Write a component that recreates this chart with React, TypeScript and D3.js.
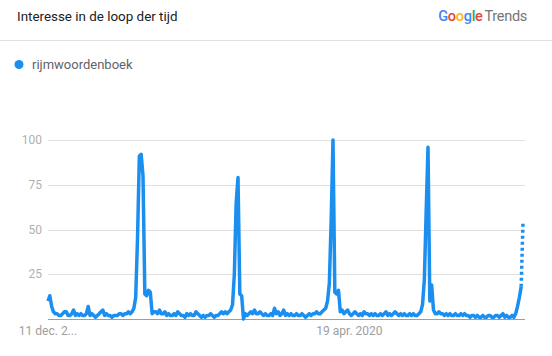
import React from "react";
import * as d3 from "d3";

const seriesName = "rijmwoordenboek";
const yTicks = [0, 25, 50, 75, 100];
const xTickLabels = [
  { index: 0, label: "11 dec. 2..." },
  { index: 165, label: "19 apr. 2020" },
];

const year1 = [
  10, 13, 7, 4, 3, 3, 2, 2, 3, 4,
  4, 2, 2, 3, 5, 2, 3, 2, 3, 2,
  2, 3, 7, 2, 3, 2, 1, 2, 3, 4,
  5, 2, 3, 2, 2, 1, 2, 2, 2, 3,
  3, 2, 3, 3, 4, 3, 4,
];
const peak1 = [6, 12, 45, 91, 92, 80, 14, 13, 16, 15];
const year2 = [
  3, 4, 4, 3, 5, 3, 3, 4, 2, 3,
  2, 2, 3, 2, 4, 3, 2, 2, 1, 3,
  2, 3, 2, 2, 4, 3, 2, 1, 2, 1,
  2, 2, 3, 2, 1, 2, 2, 3, 4, 3,
  4, 3, 4, 5,
];
const peak2 = [8, 25, 65, 79, 14, 13, 0];
const year3 = [
  3, 2, 3, 4, 3, 5, 3, 3, 4, 3,
  2, 3, 2, 2, 3, 2, 6, 3, 4, 2,
  3, 5, 2, 3, 2, 3, 2, 2, 3, 2,
  2, 3, 2, 1, 2, 3, 2, 3, 3, 4,
  3, 3, 4, 5, 6,
];
const peak3 = [10, 20, 55, 100, 15, 14, 16, 4];
const year4 = [
  5, 3, 4, 5, 3, 2, 3, 4, 3, 2,
  3, 2, 4, 3, 3, 2, 3, 2, 3, 2,
  2, 3, 2, 3, 4, 2, 3, 2, 3, 4,
  3, 2, 3, 2, 3, 2, 2, 3, 2, 3,
  2, 2, 3, 4,
];
const peak4 = [8, 22, 60, 96, 10, 19, 5, 3];
const year5 = [
  3, 4, 3, 3, 2, 3, 2, 3, 2, 2,
  3, 2, 2, 3, 2, 3, 2, 2, 1, 2,
  2, 1, 2, 1, 1, 2, 1, 1, 2, 2,
  1, 1, 2, 2, 1, 2, 3, 1, 2, 1,
  1, 2,
];
const ending = [1, 3, 7, 12, 18];
const partial = [54];

const solidValues = [
  ...year1, ...peak1, ...year2, ...peak2, ...year3, ...peak3,
  ...year4, ...peak4, ...year5, ...ending,
];
const allValues = [...solidValues, ...partial];

const W = 552;
const H = 356;
const LEFT = 48;
const RIGHT = 525;
const TOP = 140;
const BOTTOM = 319;
const BLUE = "#1a8ff0";
const FONT = "Roboto, 'Noto Sans', sans-serif";

export default function App() {
  const n = allValues.length;
  const x = d3.scaleLinear().domain([0, n - 1]).range([LEFT, 523]);
  const y = d3.scaleLinear().domain([0, 100]).range([BOTTOM, TOP]);
  const line = d3
    .line<number>()
    .x((_, i) => x(i))
    .y((d) => y(d))
    .curve(d3.curveLinear);
  const solidPath = line(solidValues) || "";
  const lastI = solidValues.length - 1;
  const dotted = d3
    .line<[number, number]>()
    .x((d) => x(d[0]))
    .y((d) => y(d[1]))([
    [lastI, solidValues[lastI]],
    [n - 1, partial[0]],
  ]) || "";

  const logo = [
    { ch: "G", c: "#4285F4" },
    { ch: "o", c: "#EA4335" },
    { ch: "o", c: "#FBBC05" },
    { ch: "g", c: "#4285F4" },
    { ch: "l", c: "#34A853" },
    { ch: "e", c: "#EA4335" },
  ];

  return (
    <svg
      width={W}
      height={H}
      style={{ position: "absolute", left: 0, top: 0, display: "block", background: "#fff" }}
      fontFamily={FONT}
    >
      <rect width={W} height={H} fill="#fff" />
      <text x={17} y={21} fontSize={13.4} fill="#202124">
        Interesse in de loop der tijd
      </text>
      <text x={527} y={21} fontSize={14.5} textAnchor="end" letterSpacing={-0.3}>
        {logo.map((l, i) => (
          <tspan key={i} fill={l.c} fontWeight={500}>
            {l.ch}
          </tspan>
        ))}
        <tspan fill="#757575" dx={2}>Trends</tspan>
      </text>
      <line x1={0} x2={W} y1={40.5} y2={40.5} stroke="#e0e0e0" strokeWidth={1} />
      <circle cx={19} cy={64.5} r={4.5} fill={BLUE} />
      <text x={32} y={69} fontSize={13} fill="#5f6368">
        {seriesName}
      </text>

      {yTicks.map((t) => (
        <g key={t}>
          {t > 0 && (
            <line
              x1={LEFT}
              x2={RIGHT}
              y1={Math.round(y(t)) + 0.5}
              y2={Math.round(y(t)) + 0.5}
              stroke="#e0e0e0"
            />
          )}
          {t > 0 && (
            <text
              x={42}
              y={y(t)}
              dy="0.35em"
              fontSize={12}
              textAnchor="end"
              fill="#b0b0b0"
            >
              {t}
            </text>
          )}
        </g>
      ))}
      <line x1={LEFT} x2={RIGHT} y1={BOTTOM + 0.5} y2={BOTTOM + 0.5} stroke="#9e9e9e" />

      <path d={solidPath} fill="none" stroke={BLUE} strokeWidth={3.5} strokeLinejoin="round" strokeLinecap="butt" />
      <path d={dotted} fill="none" stroke={BLUE} strokeWidth={3.5} strokeDasharray="3,3" />

      {xTickLabels.map((t) => (
        <text
          key={t.label}
          x={x(t.index)}
          y={331}
          dy="0.35em"
          fontSize={12}
          textAnchor="middle"
          fill="#9e9e9e"
        >
          {t.label}
        </text>
      ))}
    </svg>
  );
}
